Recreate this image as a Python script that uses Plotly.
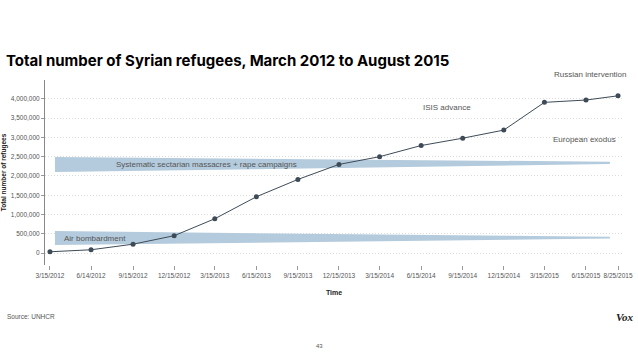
import plotly.graph_objects as go

dates = ["2012-03-15", "2012-06-14", "2012-09-15", "2012-12-15", "2013-03-15",
         "2013-06-15", "2013-09-15", "2013-12-15", "2014-03-15", "2014-06-15",
         "2014-09-15", "2014-12-15", "2015-03-15", "2015-06-15", "2015-08-25"]
tick_labels = ["3/15/2012", "6/14/2012", "9/15/2012", "12/15/2012", "3/15/2013",
               "6/15/2013", "9/15/2013", "12/15/2013", "3/15/2014", "6/15/2014",
               "9/15/2014", "12/15/2014", "3/15/2015", "6/15/2015", "8/25/2015"]
refugees = [33000, 85000, 230000, 450000, 890000,
            1460000, 1910000, 2300000, 2500000, 2790000,
            2980000, 3190000, 3910000, 3970000, 4080000]

y_ticks = [0, 500000, 1000000, 1500000, 2000000, 2500000, 3000000, 3500000, 4000000]

# annotation bands (start/end dates and value extents)
band_x = ["2012-03-26", "2015-08-07", "2015-08-07", "2012-03-26", "2012-03-26"]
sectarian_y = [2490000, 2370000, 2310000, 2100000, 2490000]
bombard_y = [571000, 420000, 375000, 208000, 571000]

band_color = "#b4cbdd"
line_color = "#3e4b57"

fig = go.Figure()
for yy in (sectarian_y, bombard_y):
    fig.add_trace(go.Scatter(x=band_x, y=yy, mode="lines", fill="toself",
                             fillcolor=band_color, line=dict(width=0, color=band_color),
                             hoverinfo="skip", showlegend=False))
fig.add_trace(go.Scatter(x=dates, y=refugees, mode="lines+markers",
                         line=dict(color=line_color, width=1),
                         marker=dict(color=line_color, size=5),
                         showlegend=False))

tick_font = dict(family="Liberation Sans", size=6.5, color="#555555")
fig.update_layout(
    width=638, height=359,
    margin=dict(l=45, r=15, t=80, b=94),
    paper_bgcolor="white", plot_bgcolor="white",
    font=dict(family="Liberation Sans"),
    xaxis=dict(type="date", range=["2012-03-04", "2015-09-05"], automargin=False,
               tickvals=dates, ticktext=tick_labels, tickfont=tick_font,
               ticks="outside", ticklen=4, tickcolor="#999999", showgrid=False,
               showline=False, zeroline=False, tickangle=0,
               title=dict(text="<b>Time</b>", font=dict(size=7, color="#222222"), standoff=12)),
    yaxis=dict(range=[-310000, 4490000], tickvals=y_ticks, automargin=False,
               ticktext=[f"{v:,}" for v in y_ticks], tickfont=tick_font,
               ticks="outside", ticklen=3, tickcolor="#999999",
               showgrid=True, gridcolor="#dcdcdc", griddash="1px,2px", gridwidth=1,
               showline=True, linecolor="#888888", linewidth=1, zeroline=False,
               title=dict(text="<b>Total number of refugees</b>",
                          font=dict(size=6.5, color="#222222"), standoff=6)),
)

ann_font = dict(family="Liberation Sans", size=8, color="#555555")


def note(text, px, py, font, xanchor="center"):
    fig.add_annotation(text=text, xref="paper", yref="paper",
                       x=(px - 45) / 578, y=(265 - py) / 185,
                       xanchor=xanchor, yanchor="middle", showarrow=False, font=font)


note("Russian intervention", 590, 74, ann_font)
note("ISIS advance", 447, 107, ann_font)
note("European exodus", 584, 139, ann_font)
note("Systematic sectarian massacres + rape campaigns", 206, 164, ann_font)
note("Air bombardment", 62, 238, ann_font, xanchor="left")

note("<b>Total number of Syrian refugees, March 2012 to August 2015</b>", 4, 61,
     dict(family="Inter", size=15, color="#000000", weight=900), xanchor="left")
note("Source: UNHCR", 5, 316, dict(family="Liberation Sans", size=6.5, color="#555555"),
     xanchor="left")
note("<b><i>Vox</i></b>", 625, 317, dict(family="Liberation Serif", size=11, color="#222222"))
note("43", 319, 346, dict(family="Liberation Sans", size=6, color="#555555"))

fig.write_html("out.html", config={"displayModeBar": False},
               post_script="document.body.style.margin='0';")
